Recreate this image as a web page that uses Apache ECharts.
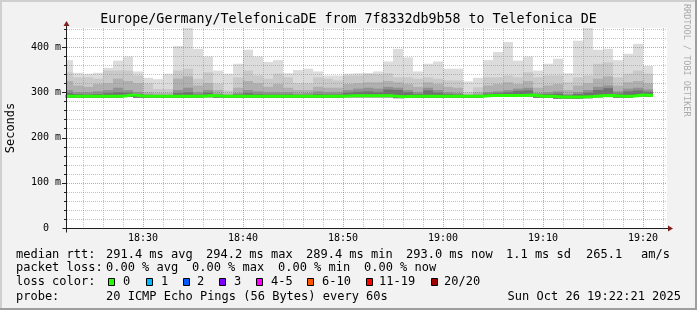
<!DOCTYPE html>
<html><head><meta charset="utf-8">
<script src="https://cdn.jsdelivr.net/npm/echarts@6/dist/echarts.min.js"></script>
<style>html,body{margin:0;padding:0;background:#f2f2f2}#c{width:697px;height:310px}</style>
</head><body><div id="c"></div><script>
// ---------------- data ----------------
const titleText = 'Europe/Germany/TelefonicaDE from 7f8332db9b58 to Telefonica DE';
const firstColumnStart = 22;           // minutes after 18:00 of first 1-min column
const xMin = 22.4, xMax = 82.4;        // visible time window (minutes after 18:00)
const yMax = 442;                      // ms
const xTickValues = [30, 40, 50, 60, 70, 80];
const xTickLabels = ['18:30', '18:40', '18:50', '19:00', '19:10', '19:20'];
const yTickValues = [0, 100, 200, 300, 400];
const yTickLabels = ['0  ', '100 m', '200 m', '300 m', '400 m'];

const medianRtt = [
  291, 291, 291, 291, 291, 291, 294.2, 291.5, 291, 291,
  291, 291, 291, 291, 293, 291, 291, 291, 291, 291,
  291, 291, 291, 291, 291, 291, 291, 291, 292, 292,
  292, 292, 292, 290, 291, 291, 291, 291, 291, 291,
  291, 291, 293, 293, 293, 293, 294, 291, 291, 289.4,
  289.5, 289.5, 290.5, 292.5, 293, 291, 291, 294, 293
];
const smokeMin = [
  288, 288, 288, 288, 288, 288, 290, 288, 288, 288,
  288, 288, 288, 288, 289, 288, 288, 288, 288, 288,
  288, 288, 288, 288, 288, 288, 288, 288, 289, 289,
  289, 289, 289, 287, 288, 288, 288, 288, 288, 288,
  288, 288, 290, 290, 290, 290, 291, 288, 288, 286,
  286, 286, 287, 289, 290, 288, 288, 291, 290
];
const smokeDark = [
  298, 296, 295, 296, 298, 300, 299, 296, 294, 293,
  293, 298, 300, 295, 299, 294, 293, 295, 298, 296,
  295, 295, 295, 294, 294, 296, 295, 295, 299, 301,
  302, 300, 306, 305, 300, 296, 304, 299, 296, 295,
  292, 293, 297, 298, 300, 303, 304, 295, 296, 297,
  293, 296, 299, 305, 309, 297, 302, 304, 301
];
const smokeCore = [
  305, 300, 300, 302, 305, 310, 305, 300, 295, 294,
  294, 305, 310, 300, 305, 297, 294, 298, 305, 302,
  300, 300, 300, 297, 298, 302, 300, 300, 305, 308,
  310, 308, 312, 310, 305, 300, 310, 305, 300, 298,
  293, 295, 300, 302, 305, 308, 310, 298, 300, 302,
  296, 300, 305, 312, 315, 302, 308, 310, 306
];
const smokeMid = [
  325, 315, 312, 318, 320, 330, 325, 320, 300, 298,
  298, 330, 335, 315, 320, 305, 297, 310, 325, 320,
  312, 318, 310, 305, 305, 312, 310, 310, 318, 320,
  322, 322, 325, 322, 318, 312, 322, 318, 312, 310,
  296, 300, 315, 318, 322, 318, 325, 310, 315, 318,
  305, 315, 320, 330, 335, 315, 322, 325, 320
];
const smokeHi = [
  344, 333, 333, 330, 348, 348, 348, 337, 320, 307,
  307, 348, 352, 330, 344, 319, 304, 333, 348, 337,
  330, 341, 333, 320, 320, 333, 330, 326, 337, 337,
  341, 340, 342, 333, 333, 330, 333, 330, 326, 326,
  300, 311, 333, 333, 337, 333, 344, 333, 337, 337,
  322, 333, 337, 363, 366, 333, 341, 348, 341
];
const smokeMax = [
  371, 343, 341, 343, 354, 370, 379, 346, 332, 329,
  341, 402, 445, 396, 379, 348, 341, 363, 394, 379,
  367, 371, 342, 349, 352, 346, 337, 337, 341, 342,
  342, 346, 368, 396, 377, 346, 363, 368, 352, 352,
  324, 332, 371, 389, 411, 370, 379, 348, 363, 374,
  342, 414, 445, 394, 396, 371, 385, 407, 358
];
const lossLabels = ['0', '1', '2', '3', '4-5', '6-10', '11-19', '20/20'];
const lossColors = ['#26ff00', '#00b8ff', '#0059ff', '#7e00ff', '#ff00ff', '#ff5500', '#ff0000', '#a10000'];
const statLine1 = ['median rtt:', '291.4 ms avg', '294.2 ms max', '289.4 ms min', '293.0 ms now', '1.1 ms sd', '265.1', 'am/s'];
const statLine2 = ['packet loss:', '0.00 % avg', '0.00 % max', '0.00 % min', '0.00 % now'];
const probeLine = ['probe:', '20 ICMP Echo Pings (56 Bytes) every 60s'];
const dateText = 'Sun Oct 26 19:22:21 2025';

// ---------------- styles ----------------
const MONO = 'DejaVu Sans Mono';
const smokeColors = ['#dcdcdc', '#c9c9c9', '#b0b0b0', '#929292', '#707070'];
const minorGridColor = 'rgba(143,143,143,0.55)';
const majorGridColor = 'rgba(222,79,79,0.6)';

const N = medianRtt.length;
const smokeData = medianRtt.map((m, i) => [firstColumnStart + i, firstColumnStart + i + 1,
  smokeMin[i], smokeDark[i], smokeCore[i], smokeMid[i], smokeHi[i], smokeMax[i]]);
const medianData = medianRtt.map((m, i) => [firstColumnStart + i, m]);
medianData.push([firstColumnStart + N, medianRtt[N - 1]]);

const minorX = [], majorX = [], minorY = [], majorY = [];
for (let v = 24; v <= 82; v += 2) (v % 10 === 0 ? majorX : minorX).push([v, 0]);
for (let v = 20; v <= 440; v += 20) (v % 100 === 0 ? majorY : minorY).push([xMin, v]);

function renderSmoke(params, api) {
  const x0 = api.value(0), x1 = api.value(1), lo = api.value(2);
  const cs = params.coordSys;
  const clip = {x: cs.x, y: cs.y, width: cs.width, height: cs.height};
  const tops = [api.value(7), api.value(6), api.value(5), api.value(4), api.value(3)];
  const children = [];
  tops.forEach((t, k) => {
    const a = api.coord([x0, t]), b = api.coord([x1, lo]);
    const r = echarts.graphic.clipRectByRect({x: a[0], y: a[1], width: b[0] - a[0], height: b[1] - a[1]}, clip);
    if (r) children.push({type: 'rect', shape: r, style: {fill: smokeColors[k]}});
  });
  return {type: 'group', children};
}
function vLine(color) {
  return function (params, api) {
    const cs = params.coordSys;
    const p = api.coord([api.value(0), 0]);
    const x = Math.round(p[0]) + 0.5;
    return {type: 'line', shape: {x1: x, y1: cs.y, x2: x, y2: cs.y + cs.height},
      style: {stroke: color, lineWidth: 1, lineDash: [1, 1]}};
  };
}
function hLine(color, tickLen) {
  return function (params, api) {
    const cs = params.coordSys;
    const p = api.coord([xMin, api.value(1)]);
    const y = Math.round(p[1]) + 0.5;
    return {type: 'group', children: [
      {type: 'line', shape: {x1: cs.x, y1: y, x2: cs.x + cs.width, y2: y},
        style: {stroke: color, lineWidth: 1, lineDash: [1, 1]}},
      {type: 'line', shape: {x1: cs.x - 1 - tickLen, y1: y, x2: cs.x - 1, y2: y},
        style: {stroke: '#1f1f1f', lineWidth: 1}}
    ]};
  };
}

const chart = echarts.init(document.getElementById('c'), null, {renderer: 'canvas', width: 697, height: 310});
chart.setOption({
  animation: false,
  backgroundColor: '#f2f2f2',
  grid: {left: 67, top: 28, width: 600, height: 200, show: true, backgroundColor: '#ffffff', borderWidth: 0},
  xAxis: {
    type: 'value', min: xMin, max: xMax,
    axisLine: {show: false}, axisTick: {show: false}, splitLine: {show: false},
    axisLabel: {customValues: xTickValues, formatter: v => { const i = xTickValues.indexOf(v); return i < 0 ? '' : xTickLabels[i]; },
      fontFamily: MONO, fontSize: 10, color: '#000', margin: 5}
  },
  yAxis: {
    type: 'value', min: 0, max: yMax,
    axisLine: {show: false}, axisTick: {show: false}, splitLine: {show: false},
    axisLabel: {customValues: yTickValues, formatter: v => { const i = yTickValues.indexOf(v); return i < 0 ? '' : yTickLabels[i]; },
      fontFamily: MONO, fontSize: 10, color: '#000', margin: 6}
  },
  series: [
    {type: 'custom', name: 'smoke', data: smokeData, renderItem: renderSmoke, encode: {x: [0, 1], y: [2, 3, 4, 5, 6, 7]}, z: 1, silent: true},
    {type: 'custom', data: minorX, renderItem: vLine(minorGridColor), encode: {x: 0, y: 1}, z: 2, silent: true},
    {type: 'custom', data: minorY, renderItem: hLine(minorGridColor, 2), encode: {x: 0, y: 1}, z: 2, silent: true, clip: false},
    {type: 'custom', data: majorX, renderItem: vLine(majorGridColor), encode: {x: 0, y: 1}, z: 3, silent: true},
    {type: 'custom', data: majorY, renderItem: hLine(majorGridColor, 4), encode: {x: 0, y: 1}, z: 3, silent: true, clip: false},
    {type: 'line', name: 'median', data: medianData, step: 'end', showSymbol: false, symbol: 'none',
      lineStyle: {color: lossColors[0], width: 3}, z: 5, silent: true}
  ]
});

// ---------- decorations (axes, arrows, texts, frame) ----------
const o = chart.convertToPixel({gridIndex: 0}, [xMin, 0]);
const r = chart.convertToPixel({gridIndex: 0}, [xMax, 0]);
const t = chart.convertToPixel({gridIndex: 0}, [xMin, yMax]);
const ax = Math.round(o[0]) - 0.5, ay = Math.round(o[1]) + 0.5;
const g = [];
g.push({type: 'line', shape: {x1: ax - 4, y1: ay, x2: r[0] + 4, y2: ay}, style: {stroke: '#1f1f1f', lineWidth: 1}, z: 10});
g.push({type: 'line', shape: {x1: ax, y1: ay + 4, x2: ax, y2: t[1] - 4}, style: {stroke: '#1f1f1f', lineWidth: 1}, z: 10});
g.push({type: 'polygon', shape: {points: [[r[0] + 1, ay - 3], [r[0] + 1, ay + 3], [r[0] + 6, ay]]}, style: {fill: '#7f1f1f'}, z: 11});
g.push({type: 'polygon', shape: {points: [[ax - 3, t[1] - 2], [ax + 3, t[1] - 2], [ax, t[1] - 7]]}, style: {fill: '#7f1f1f'}, z: 11});

function txt(s, x, y, opt) {
  return Object.assign({type: 'text', x, y, z: 10,
    style: Object.assign({text: s, fill: '#000', font: '12px "' + MONO + '"', textAlign: 'left', textVerticalAlign: 'middle'}, opt || {})});
}
g.push(txt(titleText, 348.5, 20, {font: '13.3px "' + MONO + '"', textAlign: 'center'}));
g.push(Object.assign(txt('Seconds', 11, 128, {textAlign: 'center'}), {rotation: Math.PI / 2}));
g.push(Object.assign(txt('RRDTOOL / TOBI OETIKER', 686, 4, {font: '8.5px "' + MONO + '"', fill: '#aaaaaa'}), {rotation: -Math.PI / 2}));

const l1x = [16, 106, 206, 306, 406, 506, 586, 641];
statLine1.forEach((s, i) => g.push(txt(s, l1x[i], 254.5)));
const l2x = [16, 106, 192, 278, 364];
statLine2.forEach((s, i) => g.push(txt(s, l2x[i], 267.5)));
g.push(txt('loss color:', 16, 282));
const swX = [108, 146, 183, 219, 256, 307, 366, 431];
const lbX = [123, 161, 197, 234, 271, 322, 379, 444];
lossLabels.forEach((s, i) => {
  g.push({type: 'rect', shape: {x: swX[i] + 0.5, y: 278.5, width: 6, height: 7}, style: {fill: lossColors[i], stroke: '#000', lineWidth: 1}, z: 10});
  g.push(txt(s, lbX[i], 282));
});
g.push(txt(probeLine[0], 16, 296.5));
g.push(txt(probeLine[1], 106, 296.5));
g.push(txt(dateText, 681, 296.5, {textAlign: 'right'}));
// 3D frame
g.push({type: 'rect', shape: {x: 0, y: 0, width: 697, height: 2}, style: {fill: '#cfcfcf'}, z: 12});
g.push({type: 'rect', shape: {x: 0, y: 0, width: 2, height: 310}, style: {fill: '#cfcfcf'}, z: 12});
g.push({type: 'rect', shape: {x: 0, y: 308, width: 697, height: 2}, style: {fill: '#9e9e9e'}, z: 12});
g.push({type: 'rect', shape: {x: 695, y: 0, width: 2, height: 310}, style: {fill: '#9e9e9e'}, z: 12});
chart.setOption({graphic: g});
</script></body></html>
